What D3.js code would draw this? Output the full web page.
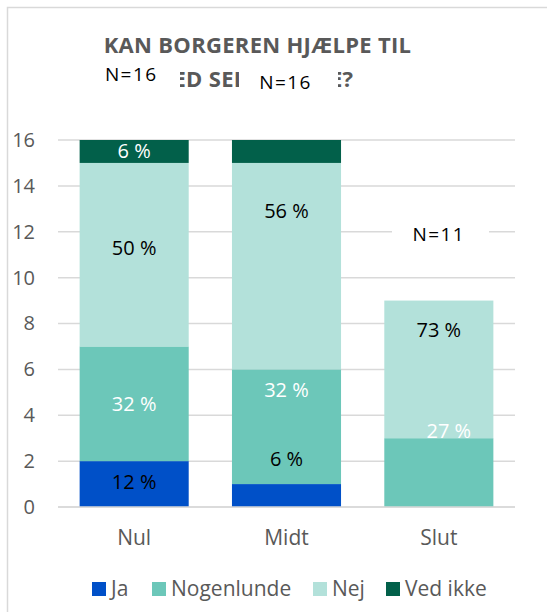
<!DOCTYPE html>
<html><head><meta charset="utf-8">
<script src="https://cdn.jsdelivr.net/npm/d3@7"></script>
<style>
body{margin:0;background:#fff;}
svg{display:block;font-family:"Open Sans",sans-serif;}
</style></head>
<body><svg id="c" width="547" height="612"></svg>
<script>
const categories = ["Nul", "Midt", "Slut"];
const seriesNames = ["Ja", "Nogenlunde", "Nej", "Ved ikke"];
const ja = [2, 1, 0];
const nogenlunde = [5, 5, 3];
const nej = [8, 9, 6];
const vedIkke = [1, 1, 0];
const jaPct = ["12 %", "6 %", null];
const nogenlundePct = ["32 %", "32 %", "27 %"];
const nejPct = ["50 %", "56 %", "73 %"];
const vedIkkePct = ["6 %", null, null];
// where Excel placed each label (data units)
const jaLabelAt = [1.1, 2.1, null];
const nogenlundeLabelAt = [4.5, 5.1, 3.3];
const nejLabelAt = [11.3, 12.9, 7.7];
const vedIkkeLabelAt = [15.5, null, null];
const nLabels = ["N=16", "N=16", "N=11"];
const nLabelAt = [18.85, 18.5, 11.9];
const yTicks = [0, 2, 4, 6, 8, 10, 12, 14, 16];
const titleLine1 = "KAN BORGEREN HJÆLPE TIL";
// second title line is partly hidden behind the N=16 labels in the original
const titleLine2Parts = ["ED SEL", "E?"];

const colors = ["#0050C8", "#6CC7B9", "#B3E1DA", "#02604A"];
const labelColors = ["#000", "#fff", "#000", "#fff"];
const seriesVals = [ja, nogenlunde, nej, vedIkke];
const seriesPct = [jaPct, nogenlundePct, nejPct, vedIkkePct];
const seriesLabelAt = [jaLabelAt, nogenlundeLabelAt, nejLabelAt, vedIkkeLabelAt];

const svg = d3.select("#c");
const grey = "#595959";

// chart frame
svg.append("path").attr("d", "M7.5,612 L7.5,7.5 L547,7.5")
  .attr("fill", "none").attr("stroke", "#d9d9d9").attr("stroke-width", 1.5);

const x = d3.scaleBand().domain(categories).range([58, 515])
  .paddingInner(0.284).paddingOuter(0.142);
const y = d3.scaleLinear().domain([0, 16]).range([507, 140]);

// gridlines
svg.append("g").selectAll("line").data(yTicks).join("line")
  .attr("x1", 58).attr("x2", 515)
  .attr("y1", d => y(d)).attr("y2", d => y(d))
  .attr("stroke", "#d9d9d9").attr("stroke-width", 1.5);

// y axis labels
const yAxis = svg.append("g").attr("transform", "translate(42,0)")
  .call(d3.axisLeft(y).tickValues(yTicks).tickSize(0).tickPadding(7));
yAxis.select(".domain").remove();
yAxis.selectAll("text").attr("font-size", 20).attr("fill", grey)
  .attr("font-family", "'Open Sans',sans-serif");

// stacked data
const rows = categories.map((c, i) => {
  const r = { cat: c };
  seriesNames.forEach((s, k) => r[s] = seriesVals[k][i]);
  return r;
});
const stacked = d3.stack().keys(seriesNames)(rows);

svg.append("g").selectAll("g").data(stacked).join("g")
  .attr("fill", (d, k) => colors[k])
  .selectAll("rect").data(d => d).join("rect")
  .attr("x", d => x(d.data.cat))
  .attr("width", x.bandwidth())
  .attr("y", d => y(d[1]))
  .attr("height", d => y(d[0]) - y(d[1]));

// baseline
svg.append("line").attr("x1", 58).attr("x2", 515).attr("y1", y(0)).attr("y2", y(0))
  .attr("stroke", "#d9d9d9").attr("stroke-width", 1.5);

// data labels
const labelData = [];
seriesNames.forEach((s, k) => categories.forEach((c, i) => {
  if (seriesPct[k][i]) labelData.push({ cat: c, text: seriesPct[k][i], at: seriesLabelAt[k][i], color: labelColors[k] });
}));
svg.append("g").selectAll("text").data(labelData).join("text")
  .attr("x", d => x(d.cat) + x.bandwidth() / 2 + (d.cat === "Slut" && d.text === "27 %" ? 10 : 0))
  .attr("y", d => y(d.at)).attr("dy", "0.35em")
  .attr("text-anchor", "middle").attr("font-size", 20).attr("fill", d => d.color)
  .text(d => d.text);

// title
const defs = svg.append("defs");
defs.append("clipPath").attr("id", "clipA").append("rect")
  .attr("x", 180).attr("y", 60).attr("width", 59).attr("height", 35);
defs.append("clipPath").attr("id", "clipB").append("rect")
  .attr("x", 338).attr("y", 60).attr("width", 30).attr("height", 35);
const title = svg.append("g").attr("font-weight", "bold").attr("font-size", 22)
  .attr("letter-spacing", 0.3).attr("fill", grey);
title.append("text").attr("x", 257.5).attr("y", 53).attr("text-anchor", "middle").text(titleLine1);
title.append("text").attr("x", 173.5).attr("y", 87).attr("clip-path", "url(#clipA)").text(titleLine2Parts[0]);
title.append("text").attr("x", 330).attr("y", 87).attr("clip-path", "url(#clipB)").text(titleLine2Parts[1]);

// N labels
const ng = svg.append("g");
nLabels.forEach((t, i) => {
  const cx = x(categories[i]) + x.bandwidth() / 2 - (i === 0 ? 3 : 0) - (i === 1 ? 1 : 0);
  const cy = y(nLabelAt[i]);
  if (i === 2) {
    ng.append("rect").attr("x", 392).attr("width", 97)
      .attr("y", cy - 14).attr("height", 28).attr("fill", "#fff");
  }
  ng.append("text").attr("x", cx).attr("y", cy).attr("dy", "0.35em")
    .attr("text-anchor", "middle").attr("font-size", 19).attr("letter-spacing", 1.4)
    .attr("fill", "#000").text(t);
});

// category labels
svg.append("g").selectAll("text").data(categories).join("text")
  .attr("x", d => x(d) + x.bandwidth() / 2).attr("y", 538).attr("dy", "0.35em")
  .attr("text-anchor", "middle").attr("font-size", 21).attr("fill", grey).text(d => d);

// legend
const legX = [92, 152, 313, 386];
const lg = svg.append("g");
seriesNames.forEach((s, k) => {
  lg.append("rect").attr("x", legX[k]).attr("y", 582).attr("width", 14).attr("height", 14).attr("fill", colors[k]);
  lg.append("text").attr("x", legX[k] + 19).attr("y", 589).attr("dy", "0.35em")
    .attr("font-size", 21).attr("fill", grey).text(s);
});
</script></body></html>
